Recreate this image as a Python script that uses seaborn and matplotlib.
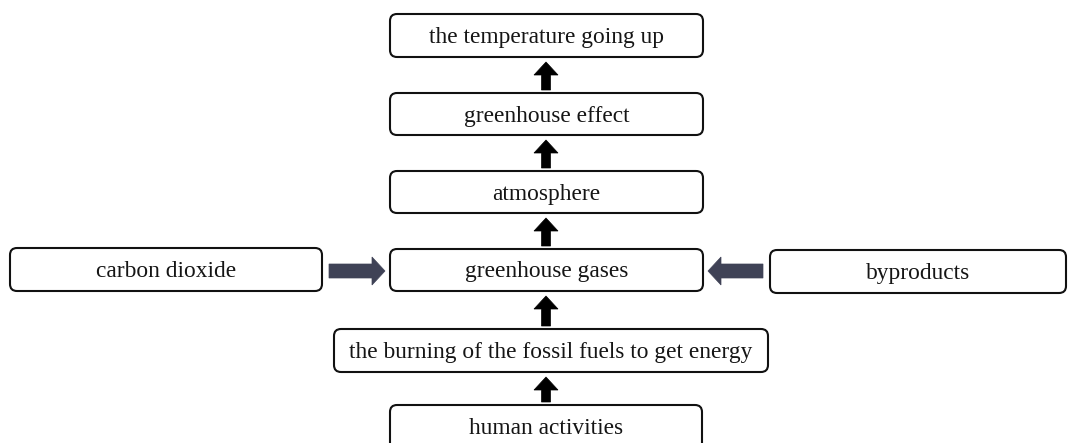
import matplotlib
matplotlib.use("Agg")
import matplotlib.pyplot as plt
from matplotlib.patches import FancyBboxPatch, FancyArrow
import seaborn as sns

# flowchart content
chain_labels = ["the temperature going up", "greenhouse effect", "atmosphere",
                "greenhouse gases", "the burning of the fossil fuels to get energy",
                "human activities"]
side_labels = ["carbon dioxide", "byproducts"]

sns.set_theme(style="white")
plt.rcParams['font.family'] = ['Liberation Serif', 'DejaVu Serif']

W, H = 1074, 443
fig = plt.figure(figsize=(W / 100, H / 100), dpi=100)
ax = fig.add_axes([0, 0, 1, 1])
ax.set_xlim(0, W)
ax.set_ylim(H, 0)
ax.axis("off")

# box layout in pixels: (x0, y0, x1, y1)
chain_boxes = [(390, 14, 703, 57), (390, 93, 703, 135), (390, 171, 703, 213),
               (390, 249, 703, 291), (334, 329, 768, 372), (390, 405, 702, 450)]
side_boxes = [(10, 248, 322, 291), (770, 250, 1066, 293)]


def draw_box(b, text):
    x0, y0, x1, y1 = b
    ax.add_patch(FancyBboxPatch((x0, y0), x1 - x0, y1 - y0,
                                boxstyle="round,pad=0,rounding_size=7",
                                fc="white", ec="#111111", lw=1.5, zorder=2))
    yc = (y0 + y1) / 2 + 2 if y1 <= 443 else y0 + 23
    ax.text((x0 + x1) / 2, yc, text, ha="center", va="center",
            fontsize=16.8, color="#151515", zorder=3)


for b, t in zip(chain_boxes, chain_labels):
    draw_box(b, t)
for b, t in zip(side_boxes, side_labels):
    draw_box(b, t)

# black up arrows between chain boxes
for lower, upper in zip(chain_boxes[1:], chain_boxes[:-1]):
    y_start = lower[1] - 3
    y_end = upper[3] + 5
    ax.add_patch(FancyArrow(546, y_start, 0, y_end - y_start, width=9,
                            head_width=24, head_length=13,
                            length_includes_head=True, fc="black", ec="black",
                            lw=0.5, zorder=3))

# grey side arrows into "greenhouse gases"
arrow_col = "#3f4256"
ax.add_patch(FancyArrow(329, 271, 385 - 329, 0, width=14, head_width=28,
                        head_length=13, length_includes_head=True,
                        fc=arrow_col, ec=arrow_col, lw=0.5, zorder=3))
ax.add_patch(FancyArrow(763, 271, 708 - 763, 0, width=14, head_width=28,
                        head_length=13, length_includes_head=True,
                        fc=arrow_col, ec=arrow_col, lw=0.5, zorder=3))

fig.savefig("out.png", dpi=100, facecolor="white")
